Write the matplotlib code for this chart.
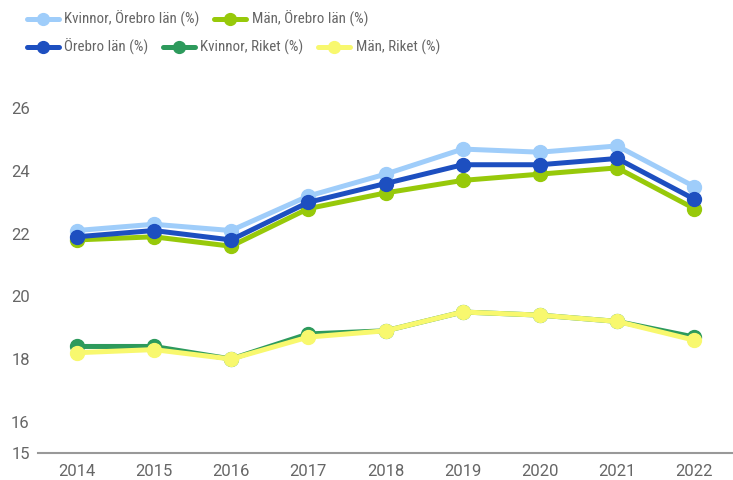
import numpy as np
import matplotlib.pyplot as plt

plt.rcParams['font.family'] = ['Roboto', 'DejaVu Sans']

years = [2014, 2015, 2016, 2017, 2018, 2019, 2020, 2021, 2022]

kvinnor_orebro = [22.1, 22.3, 22.1, 23.2, 23.9, 24.7, 24.6, 24.8, 23.5]
man_orebro = [21.8, 21.9, 21.6, 22.8, 23.3, 23.7, 23.9, 24.1, 22.8]
orebro = [21.9, 22.1, 21.8, 23.0, 23.6, 24.2, 24.2, 24.4, 23.1]
kvinnor_riket = [18.4, 18.4, 18.0, 18.8, 18.9, 19.5, 19.4, 19.2, 18.7]
man_riket = [18.2, 18.3, 18.0, 18.7, 18.9, 19.5, 19.4, 19.2, 18.6]

yticks = [15, 16, 18, 20, 22, 24, 26]

text_col = '#666666'

fig = plt.figure(figsize=(7.33, 4.8), dpi=100)
ax = fig.add_axes([38 / 733, 27 / 480, 695 / 733, 376 / 480])

style = dict(lw=3.6, marker='o', ms=10, solid_capstyle='round')

l1, = ax.plot(years, kvinnor_orebro, color='#9fcdfa', label='Kvinnor, Örebro län (%)', **style)
l2, = ax.plot(years, man_orebro, color='#97c90a', label='Män, Örebro län (%)', **style)
l3, = ax.plot(years, orebro, color='#1d4fc0', label='Örebro län (%)', **style)
l4, = ax.plot(years, kvinnor_riket, color='#2d9a5c', label='Kvinnor, Riket (%)', **style)
l5, = ax.plot(years, man_riket, color='#f8f86e', label='Män, Riket (%)', **style)

ax.set_xlim(2013.5, 2022.5)
ax.set_ylim(15, 27)
ax.set_xticks(years)
ax.set_yticks(yticks)
ax.tick_params(length=0, labelsize=12, colors=text_col)
ax.tick_params(axis='y', pad=6)
ax.tick_params(axis='x', pad=8)
for side in ['top', 'right', 'left']:
    ax.spines[side].set_visible(False)
ax.spines['bottom'].set_color('#999999')
ax.spines['bottom'].set_linewidth(1.5)

leg_font = {'family': ['Roboto Condensed', 'Roboto', 'DejaVu Sans'], 'size': 10.8}
leg_kw = dict(frameon=False, prop=leg_font, labelcolor=text_col, handlelength=2.1,
              handletextpad=0.4, columnspacing=0.95, borderaxespad=0, borderpad=0,
              loc='upper left', markerscale=0.85)
leg1 = fig.legend(handles=[l1, l2], ncol=2, bbox_to_anchor=(27 / 733, 1 - 11 / 480), **leg_kw)
leg2 = fig.legend(handles=[l3, l4, l5], ncol=3, bbox_to_anchor=(27 / 733, 1 - 39 / 480), **leg_kw)

fig.savefig('out.png', dpi=100)
